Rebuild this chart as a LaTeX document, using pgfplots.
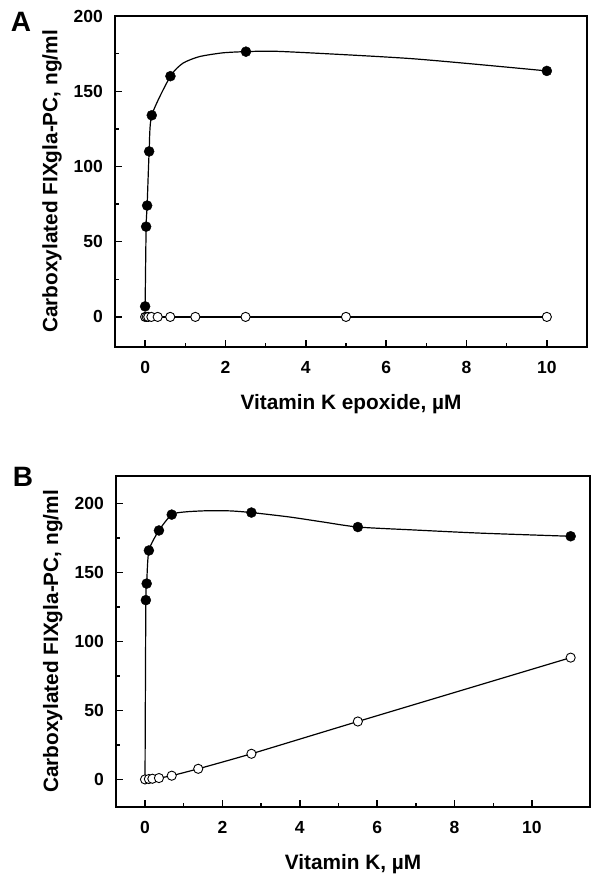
\documentclass[border=0pt]{standalone}
\usepackage{pgfplots}
\pgfplotsset{compat=1.18}
\usepackage{fontspec}
\setmainfont{Liberation Sans}

\pgfplotstableread{
x y
0 7
0.025 60
0.05 74
0.1 110
0.165 134
0.63 160
0.94 168.6
1.35 173
1.93 175.5
2.51 176.3
3.4 176.4
6.66 171.6
10 163.5
}\curveAfilled

\pgfplotstableread{
x y
0 7
0.025 60
0.05 74
0.1 110
0.165 134
0.63 160
2.51 176.3
10 163.5
}\marksAfilled

\pgfplotstableread{
x y
0 0
0.039 0
0.078 0
0.156 0
0.3125 0
0.625 0
1.25 0
2.5 0
5 0
10 0
}\dataAopen

\pgfplotstableread{
x y
0 0
0.0215 130
0.043 142
0.1 166
0.36 180.5
0.69 192
1.05 194
1.6 194.8
2.2 194.7
2.75 193.5
3.73 190.3
4.59 186.7
5.5 183
6.93 180.9
8.65 178.6
11 176.3
}\curveBfilled

\pgfplotstableread{
x y
0.0215 130
0.043 142
0.1 166
0.36 180.5
0.69 192
2.75 193.5
5.5 183
11 176.3
}\marksBfilled

\pgfplotstableread{
x y
0 0
0.1 0.3
0.19 0.5
0.36 1.0
0.69 2.7
1.375 7.7
2.75 18.6
5.5 42
11 88.3
}\dataBopen

\pgfplotsset{
  myax/.style={
    scale only axis,
    anchor=north west,
    axis line style={line width=1.4pt},
    tick align=inside,
    tick pos=left,
    major tick length=7pt,
    minor tick length=4pt,
    every tick/.style={black, line width=1.4pt},
    minor x tick num=1,
    minor y tick num=1,
    ytick={0,50,100,150,200},
    xtick={0,2,4,6,8,10},
    tick label style={font=\fontsize{17.5}{18}\selectfont\bfseries},
    /pgf/number format/assume math mode=true,
    yticklabel style={anchor=east, inner sep=0pt, xshift=-12pt},
    xticklabel style={anchor=north, inner sep=0pt, yshift=-14pt},
    every axis y label/.style={at={(axis description cs:-0.1335,0.5)}, rotate=90, anchor=center, font=\fontsize{20.8}{22}\selectfont\bfseries},
    every axis x label/.style={at={(axis description cs:0.5,-0.172)}, anchor=center, font=\fontsize{20.8}{22}\selectfont\bfseries},
    ylabel={Carboxylated FIXgla-PC, ng/ml},
  },
  curveline/.style={black, line width=1.2pt, smooth, tension=0.4, no marks},
  filledmk/.style={only marks, mark=*, mark size=5pt, mark options={fill=black, draw=black}},
  openmk/.style={black, line width=1.2pt, mark=*, mark size=4.6pt, mark options={fill=white, draw=black, line width=0.9pt}},
}

\begin{document}
\begin{tikzpicture}
\useasboundingbox (0pt,0pt) rectangle (601pt,-882pt);
\node[font=\fontsize{28}{30}\selectfont\bfseries, inner sep=0pt] at (21pt,-22pt) {A};
\node[font=\fontsize{28}{30}\selectfont\bfseries, inner sep=0pt] at (23pt,-477pt) {B};

\begin{axis}[myax, at={(115pt,-16pt)}, width=472pt, height=331pt,
  xmin=-0.75, xmax=11, ymin=-20, ymax=200,
  xlabel={Vitamin K epoxide, \textmu M}]
\addplot[curveline] table {\curveAfilled};
\addplot[openmk] table {\dataAopen};
\addplot[filledmk] table {\marksAfilled};
\end{axis}

\begin{axis}[myax, at={(116pt,-476pt)}, width=474pt, height=331pt,
  xmin=-0.75, xmax=11.5, ymin=-20, ymax=220,
  xlabel={Vitamin K, \textmu M}]
\addplot[curveline] table {\curveBfilled};
\addplot[filledmk] table {\marksBfilled};
\addplot[openmk, smooth, tension=0.3] table {\dataBopen};
\end{axis}
\end{tikzpicture}
\end{document}
